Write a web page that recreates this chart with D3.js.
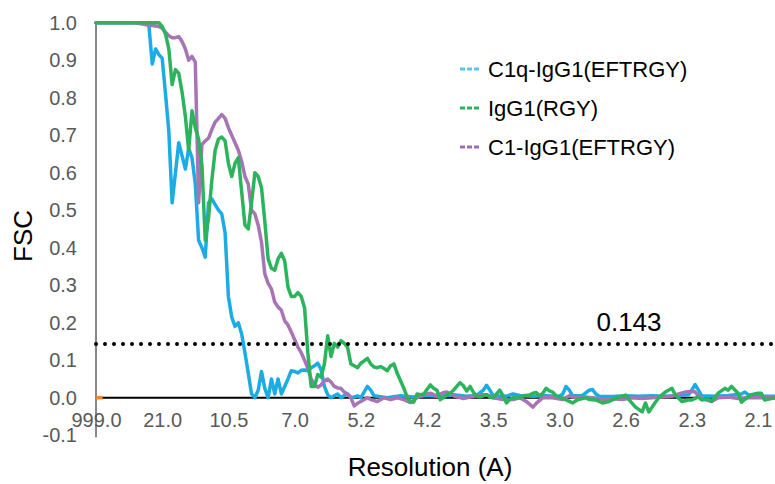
<!DOCTYPE html>
<html>
<head>
<meta charset="utf-8">
<script src="https://cdn.jsdelivr.net/npm/d3@7"></script>
<style>
  html, body { margin: 0; padding: 0; background: #ffffff; }
  svg { display: block; }
  text { font-family: "Liberation Sans", Arial, sans-serif; }
</style>
</head>
<body>
<div id="chart"></div>
<script>
// Fourier shell correlation curves, FSC value per shell index.
const shellTicks = [0, 20, 40, 60, 80, 100, 120, 140, 160, 180, 200];
const tickLabels = ["999.0", "21.0", "10.5", "7.0", "5.2", "4.2", "3.5", "3.0", "2.6", "2.3", "2.1"];
const yTicks = [-0.1, 0.0, 0.1, 0.2, 0.3, 0.4, 0.5, 0.6, 0.7, 0.8, 0.9, 1.0];
const threshold = 0.143;

const seriesNames = ["C1q-IgG1(EFTRGY)", "IgG1(RGY)", "C1-IgG1(EFTRGY)"];

// [shell, FSC]
const c1qIgG1 = [
  [0,1.0],[15,1.0],[16,0.99],[17,0.89],[18,0.93],[19,0.915],[20,0.905],[21,0.81],[22,0.71],[23,0.52],
  [24,0.6],[25,0.68],[26,0.645],[27,0.61],[28,0.665],[29,0.64],[30,0.57],[31,0.42],[32,0.40],[33,0.375],
  [34,0.52],[35,0.53],[36,0.515],[37,0.50],[38,0.49],[39,0.44],[40,0.27],[41,0.215],[42,0.19],[43,0.2],
  [44,0.17],[45,0.12],[46,0.065],[47,0.01],[48,0.0],[49,0.02],[50,0.07],[51,0.025],[52,0.0],[53,0.05],
  [54,0.01],[55,0.05],[56,0.01],[57,0.03],[58,0.05],[59,0.072],[60,0.07],[61,0.066],[62,0.073],[63,0.074],
  [64,0.072],[65,0.08],[66,0.085],[67,0.092],[68,0.075],[69,0.03],[70,0.008],[71,0.0],[72,0.005],[73,0.01],
  [74,0.0],[75,0.006],[76,0.01],[77,0.0],[78,0.002],[79,0.005],[80,0.0],[81,0.015],[82,0.03],[83,0.02],
  [84,0.005],[88,0.0],[92,0.005],[96,0.002],[100,0.006],[104,0.003],[108,0.008],[112,0.004],[115,0.006],
  [117,0.02],[118,0.033],[119,0.02],[120,0.005],[124,0.004],[126,0.01],[128,0.006],[132,0.004],[136,0.005],
  [140,0.004],[141,0.01],[142,0.03],[143,0.02],[144,0.005],[147,0.006],[149,0.02],[150,0.022],[151,0.01],
  [152,0.004],[156,0.003],[160,0.005],[164,0.004],[168,0.005],[172,0.004],[176,0.006],[179,0.008],[180,0.02],
  [181,0.035],[182,0.02],[183,0.005],[187,0.004],[191,0.006],[195,0.01],[196,0.015],[197,0.008],[201,0.004],
  [206,0.004]
];

const igG1RGY = [
  [0,1.0],[19,1.0],[20,0.99],[21,0.97],[22,0.93],[23,0.835],[24,0.875],[25,0.865],[26,0.815],[27,0.75],
  [28,0.66],[29,0.765],[30,0.72],[31,0.69],[32,0.62],[33,0.42],[34,0.48],[35,0.58],[36,0.66],[37,0.69],
  [38,0.695],[39,0.685],[40,0.625],[41,0.59],[42,0.625],[43,0.64],[44,0.55],[45,0.46],[46,0.45],[47,0.52],
  [48,0.60],[49,0.59],[50,0.56],[51,0.47],[52,0.37],[53,0.345],[54,0.34],[55,0.37],[56,0.385],[57,0.365],
  [58,0.295],[59,0.27],[60,0.27],[61,0.28],[62,0.27],[63,0.24],[64,0.12],[65,0.03],[66,0.03],[67,0.062],
  [68,0.055],[69,0.09],[70,0.165],[71,0.11],[72,0.145],[73,0.135],[74,0.152],[75,0.145],[76,0.135],[77,0.09],
  [78,0.085],[79,0.08],[80,0.092],[81,0.098],[82,0.105],[83,0.09],[84,0.082],[85,0.08],[86,0.083],[87,0.078],
  [88,0.072],[89,0.085],[90,0.09],[91,0.065],[92,0.045],[93,0.025],[94,0.002],[95,-0.01],[96,-0.012],[97,0.01],
  [98,0.008],[99,0.01],[100,0.022],[101,0.034],[102,0.025],[103,0.02],[104,-0.005],[105,0.0],[106,0.008],
  [107,0.012],[108,0.02],[109,0.03],[110,0.04],[111,0.032],[112,0.018],[113,0.03],[114,0.015],[115,0.005],
  [116,0.002],[117,0.005],[118,0.008],[119,0.002],[120,0.0],[121,0.01],[122,0.02],[123,0.005],[124,-0.014],
  [125,-0.005],[126,0.0],[128,0.0],[129,0.005],[131,0.007],[132,0.012],[133,0.014],[134,0.005],[135,0.012],
  [136,0.025],[137,0.018],[138,0.015],[139,0.005],[140,0.002],[142,-0.006],[144,-0.014],[145,-0.008],
  [146,-0.004],[148,0.0],[149,-0.005],[151,-0.006],[153,-0.014],[155,-0.01],[157,-0.002],[158,0.002],
  [160,0.007],[161,-0.005],[163,-0.025],[165,-0.038],[166,-0.014],[167,-0.038],[169,-0.012],[170,0.0],
  [172,0.015],[174,0.025],[175,0.008],[177,-0.01],[179,-0.006],[180,-0.006],[182,0.002],[183,-0.006],
  [185,-0.003],[186,-0.01],[188,0.012],[190,0.025],[191,0.02],[192,0.03],[194,0.012],[195,-0.012],
  [197,0.002],[198,0.008],[200,0.012],[201,0.012],[202,-0.006],[204,-0.002],[206,0.0]
];

const c1IgG1 = [
  [0,1.0],[12,1.0],[15,0.995],[19,0.99],[20,0.985],[21,0.975],[22,0.965],[23,0.96],[24,0.96],[25,0.963],
  [26,0.95],[27,0.93],[28,0.90],[29,0.91],[30,0.895],[31,0.52],[32,0.675],[33,0.685],[34,0.692],[35,0.715],
  [36,0.735],[37,0.745],[38,0.755],[39,0.745],[40,0.72],[41,0.70],[42,0.68],[43,0.66],[44,0.63],[45,0.59],
  [46,0.57],[47,0.50],[48,0.49],[49,0.46],[50,0.415],[51,0.33],[52,0.305],[53,0.29],[54,0.255],[55,0.242],
  [56,0.233],[57,0.205],[58,0.194],[59,0.175],[60,0.155],[61,0.135],[62,0.12],[63,0.10],[64,0.078],[65,0.05],
  [66,0.035],[67,0.028],[68,0.034],[69,0.045],[70,0.05],[71,0.042],[72,0.03],[73,0.026],[74,0.025],[75,0.015],
  [76,0.01],[77,0.0],[78,-0.022],[79,-0.015],[80,-0.01],[82,0.0],[83,-0.005],[85,-0.01],[87,0.0],[89,-0.005],
  [91,0.0],[93,-0.005],[95,-0.013],[97,0.0],[99,0.008],[101,0.012],[103,0.005],[105,0.014],[106,0.015],
  [108,0.005],[111,-0.002],[113,0.002],[116,0.008],[118,0.008],[120,0.0],[123,-0.005],[126,-0.005],[128,0.0],
  [130,-0.01],[132,-0.025],[133,-0.015],[135,0.0],[138,0.0],[141,-0.005],[143,0.005],[145,0.0],[148,0.002],
  [151,-0.002],[154,-0.005],[156,-0.003],[159,-0.005],[162,0.0],[165,-0.002],[168,0.0],[171,0.002],
  [174,0.004],[176,0.01],[178,0.015],[180,0.017],[181,0.015],[182,0.005],[184,-0.005],[186,-0.01],
  [188,0.0],[191,0.002],[194,-0.002],[197,0.0],[200,0.0],[203,0.0],[206,0.0]
];

// short reference stub at the origin
const originStub = [[0,0.0],[2,0.0]];

const W = 775, H = 484;

const svg = d3.select("#chart").append("svg")
  .attr("width", W).attr("height", H);

svg.append("rect").attr("width", W).attr("height", H).attr("fill", "#ffffff");

const x = d3.scaleLinear().domain([0, 206]).range([96, 96 + 206 * 3.31]);
const y = d3.scaleLinear().domain([-0.1, 1.0]).range([435.2, 22.7]);

// y axis
const yAxis = d3.axisLeft(y).tickValues(yTicks).tickSize(0).tickPadding(19)
  .tickFormat(d => d.toFixed(1));
const gy = svg.append("g").attr("transform", `translate(${x(0)},0)`).call(yAxis);
gy.select(".domain").attr("stroke", "#878787").attr("stroke-width", 2)
  .attr("d", `M0,${y(1.0)}V${y(-0.1) + 2}`);
gy.selectAll("text").attr("fill", "#595959").attr("font-size", 20)
  .attr("font-family", "Liberation Sans, Arial, sans-serif");

// x axis through FSC = 0
const xAxis = d3.axisBottom(x).tickValues(shellTicks).tickSize(0).tickPadding(15)
  .tickFormat((d, i) => tickLabels[i]);
const gx = svg.append("g").attr("transform", `translate(0,${y(0)})`).call(xAxis);
gx.select(".domain").attr("stroke", "#000000").attr("stroke-width", 2)
  .attr("d", `M${x(0)},0H${W + 5}`);
gx.selectAll("text").attr("fill", "#595959").attr("font-size", 20)
  .attr("font-family", "Liberation Sans, Arial, sans-serif");

const line = d3.line().x(d => x(d[0])).y(d => y(d[1]));

const colors = ["#1dabe4", "#2db35b", "#a774b5"];
const legendColors = ["#5bc6e6", "#2fb25e", "#9d6cb4"];

const plotted = [
  { data: c1qIgG1, color: colors[0] },
  { data: c1IgG1, color: colors[2] },
  { data: igG1RGY, color: colors[1] }
];
plotted.forEach(s => {
  svg.append("path").datum(s.data)
    .attr("d", line)
    .attr("fill", "none")
    .attr("stroke", s.color)
    .attr("stroke-width", 3.5)
    .attr("stroke-linejoin", "round")
    .attr("stroke-linecap", "round");
});

svg.append("path").datum(originStub)
  .attr("d", line)
  .attr("fill", "none")
  .attr("stroke", "#f08536")
  .attr("stroke-width", 3.5);

// 0.143 threshold
svg.append("line")
  .attr("x1", x(0)).attr("x2", W + 5)
  .attr("y1", y(threshold)).attr("y2", y(threshold))
  .attr("stroke", "#000000")
  .attr("stroke-width", 4)
  .attr("stroke-linecap", "round")
  .attr("stroke-dasharray", "0 9");

svg.append("text")
  .attr("x", 629).attr("y", 331)
  .attr("text-anchor", "middle")
  .attr("font-size", 26)
  .attr("fill", "#000000")
  .text(threshold.toFixed(3));

// legend
const legend = svg.append("g");
seriesNames.forEach((name, i) => {
  const cy = 69 + i * 39;
  legend.append("line")
    .attr("x1", 460).attr("x2", 479)
    .attr("y1", cy).attr("y2", cy)
    .attr("stroke", legendColors[i])
    .attr("stroke-width", 3)
    .attr("stroke-dasharray", "5 2");
  legend.append("text")
    .attr("x", 488).attr("y", cy)
    .attr("dy", "0.35em")
    .attr("font-size", 22)
    .attr("fill", "#000000")
    .text(name);
});

// axis titles
svg.append("text")
  .attr("transform", "translate(32,236) rotate(-90)")
  .attr("text-anchor", "middle")
  .attr("font-size", 26)
  .attr("fill", "#000000")
  .text("FSC");

svg.append("text")
  .attr("x", 430).attr("y", 476)
  .attr("text-anchor", "middle")
  .attr("font-size", 26)
  .attr("fill", "#000000")
  .text("Resolution (A)");
</script>
</body>
</html>
